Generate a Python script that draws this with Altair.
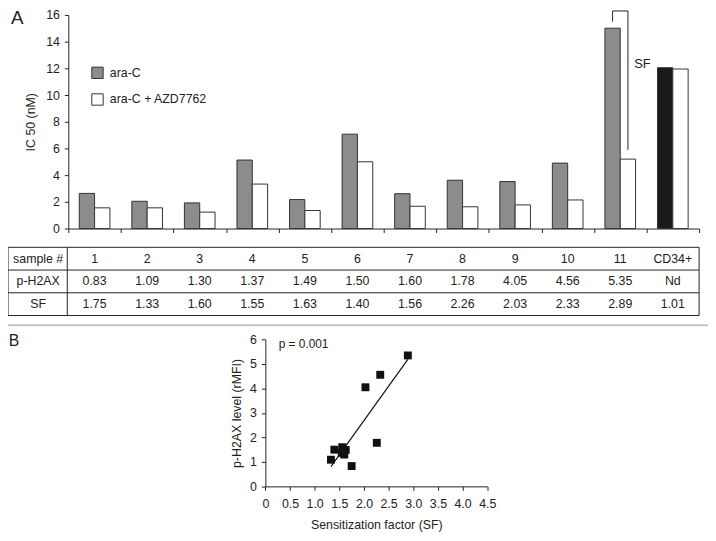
import altair as alt
import pandas as pd

# ---------------- data ----------------
samples = ["1", "2", "3", "4", "5", "6", "7", "8", "9", "10", "11", "CD34+"]
series = ["ara-C", "ara-C + AZD7762"]
ic50_arac = [2.63, 2.04, 1.92, 5.13, 2.17, 7.07, 2.61, 3.62, 3.52, 4.90, 15.01, 12.05]
ic50_azd = [1.55, 1.55, 1.23, 3.33, 1.35, 5.00, 1.67, 1.63, 1.77, 2.14, 5.20, 11.95]
row_names = ["sample #", "p-H2AX", "SF"]
ph2ax_labels = ["0.83", "1.09", "1.30", "1.37", "1.49", "1.50", "1.60", "1.78", "4.05", "4.56", "5.35", "Nd"]
sf_labels = ["1.75", "1.33", "1.60", "1.55", "1.63", "1.40", "1.56", "2.26", "2.03", "2.33", "2.89", "1.01"]
scatter_sf = [1.75, 1.33, 1.60, 1.55, 1.63, 1.40, 1.56, 2.26, 2.03, 2.33, 2.89]
scatter_ph2ax = [0.83, 1.09, 1.30, 1.37, 1.49, 1.50, 1.60, 1.78, 4.05, 4.56, 5.35]
ytick_a = [0, 2, 4, 6, 8, 10, 12, 14, 16]
xtick_b = [0, 0.5, 1.0, 1.5, 2.0, 2.5, 3.0, 3.5, 4.0, 4.5]
ytick_b = [0, 1, 2, 3, 4, 5, 6]

bars_df = pd.DataFrame(
    [{"sample": s, "series": series[0], "value": v} for s, v in zip(samples, ic50_arac)]
    + [{"sample": s, "series": series[1], "value": v} for s, v in zip(samples, ic50_azd)]
)
table_rows = [samples, ph2ax_labels, sf_labels]
table_df = pd.DataFrame(
    [{"row": row_names[r], "col": c, "text": t}
     for r, vals in enumerate(table_rows) for c, t in enumerate(vals)]
)
rowlab_df = pd.DataFrame({"row": row_names})
sc_df = pd.DataFrame({"sf": scatter_sf, "ph2ax": scatter_ph2ax})
one = pd.DataFrame({"k": [0]})

FONT = "Liberation Sans"
INK = "#222222"

# ---------------- scales (plot coords = page - 8) ----------------
BX = alt.Scale(domain=samples, range=[61, 699], paddingInner=0.417, paddingOuter=0.2085)
GX = alt.Scale(domain=[0, 12], range=[61, 699], nice=False, zero=False)
BY = alt.Scale(domain=[0, 16], range=[220, 4], nice=False, zero=False)
TYQ = alt.Scale(domain=[0, 3], range=[239, 308], nice=False, zero=False)
TYP = alt.Scale(type="point", domain=row_names, range=[239, 308], padding=0.5)
SX = alt.Scale(domain=[0, 4.5], range=[260.3, 484.7], nice=False, zero=False)
SY = alt.Scale(domain=[0, 6], range=[480.8, 332.3], nice=False, zero=False)


def rule(x, x2, y, y2, xs, ys, color=INK, width=1.0):
    enc = dict(x=alt.XDatum(x, scale=xs, axis=None), y=alt.YDatum(y, scale=ys, axis=None))
    if x2 is not None:
        enc["x2"] = alt.X2Datum(x2)
    if y2 is not None:
        enc["y2"] = alt.Y2Datum(y2)
    return alt.Chart(one).mark_rule(color=color, strokeWidth=width).encode(**enc)


def label(x, y, s, xs, ys, size=12, align="center"):
    return alt.Chart(one).mark_text(text=s, font=FONT, fontSize=size, color=INK,
                                    align=align, baseline="middle").encode(
        x=alt.XDatum(x, scale=xs, axis=None), y=alt.YDatum(y, scale=ys, axis=None))


# ---------------- panel A: bars ----------------
bars = alt.Chart(bars_df).transform_calculate(
    key="datum.sample == 'CD34+' && datum.series == 'ara-C' ? 'CD34+ ara-C' : datum.series"
).mark_bar(stroke="#333333", strokeWidth=1).encode(
    x=alt.X("sample:N", scale=BX, sort=samples, axis=None),
    xOffset=alt.XOffset("series:N", sort=series,
                        scale=alt.Scale(domain=series, paddingInner=0, paddingOuter=0)),
    y=alt.Y("value:Q", scale=BY,
            axis=alt.Axis(orient="left", offset=-61, values=ytick_a, tickSize=4,
                          labelPadding=5, labelOverlap=False, labelFlush=False,
                          title="IC 50 (nM)", titlePadding=8)),
    fill=alt.Fill("key:N",
                  scale=alt.Scale(domain=[series[0], series[1], "CD34+ ara-C"],
                                  range=["#8c8c8c", "#ffffff", "#1a1a1a"]),
                  legend=alt.Legend(title=None, orient="none", legendX=84, legendY=56,
                                    values=series, symbolType="square", symbolSize=132,
                                    symbolStrokeColor="#333333", symbolStrokeWidth=1,
                                    labelFont=FONT, labelFontSize=12.5, labelColor=INK,
                                    labelOffset=6, rowPadding=10, padding=0)),
)

# ---------------- table ----------------
table_text = alt.Chart(table_df).transform_calculate(xc="datum.col + 0.5").mark_text(
    font=FONT, fontSize=12.5, color=INK, baseline="middle"
).encode(
    x=alt.X("xc:Q", scale=GX,
            axis=alt.Axis(orient="bottom", offset=-313, values=list(range(13)),
                          labels=False, tickSize=4, title=None)),
    y=alt.Y("row:N", scale=TYP, axis=None),
    text="text:N",
)
row_text = alt.Chart(rowlab_df).mark_text(font=FONT, fontSize=12.5, color=INK,
                                          baseline="middle").encode(
    x=alt.XDatum(-0.574, scale=GX, axis=None),
    y=alt.Y("row:N", scale=TYP, axis=None),
    text="row:N",
)
grid = [rule(-1.147, 12, b, None, GX, TYQ) for b in [0, 1, 2, 3]]
grid += [rule(v, None, 0, 3, GX, TYQ) for v in [-1.147, -0.02, 12]]

separator = rule(-1.147, 12.17, 3.43, None, GX, TYQ, color="#c4c4c4", width=2)

# bracket + annotations panel A
bracket = [
    rule(10.354, None, 15.5, 16.3, GX, BY),
    rule(10.646, None, 5.9, 16.3, GX, BY),
    rule(10.354, 10.646, 16.3, None, GX, BY),
]
sf_note = label(10.92, 12.35, "SF", GX, BY, size=13)
a_lab = label(-0.97, 15.75, "A", GX, BY, size=19)

# ---------------- panel B: scatter ----------------
points = alt.Chart(sc_df).mark_square(size=64, color="#111111", opacity=1).encode(
    x=alt.X("sf:Q", scale=SX,
            axis=alt.Axis(orient="bottom", offset=-52.2, values=xtick_b, tickSize=4,
                          labelPadding=7, labelOverlap=False, labelFlush=False,
                          labelExpr="datum.value == 0 ? '0' : format(datum.value, '.1f')",
                          title="Sensitization factor (SF)", titlePadding=9)),
    y=alt.Y("ph2ax:Q", scale=SY,
            axis=alt.Axis(orient="left", offset=-260.3, values=ytick_b, tickSize=4,
                          labelPadding=5, labelOverlap=False, labelFlush=False,
                          title="p-H2AX level (rMFI)", titlePadding=6)),
)
reg = alt.Chart(sc_df).transform_regression("sf", "ph2ax").mark_line(
    color="#111111", strokeWidth=1.2
).encode(
    x=alt.X("sf:Q", scale=SX, axis=None),
    y=alt.Y("ph2ax:Q", scale=SY, axis=None),
)
p_note = label(0.27, 5.81, "p = 0.001", SX, SY, size=12, align="left")
b_lab = label(-5.1, 5.95, "B", SX, SY, size=16)

layers = [separator] + grid + [bars, table_text, row_text] + bracket + [sf_note, a_lab, reg, points, p_note, b_lab]

chart = alt.layer(*layers).resolve_scale(
    x="independent", y="independent"
).resolve_axis(
    x="independent", y="independent"
).properties(
    width=708, height=533, padding=0, autosize=alt.AutoSizeParams(type="none")
).configure_view(
    stroke=None
).configure_axis(
    grid=False, domainColor=INK, tickColor=INK, labelColor=INK, labelFont=FONT,
    labelFontSize=12.5, titleFont=FONT, titleFontSize=12.5, titleFontWeight="normal",
    titleColor=INK, domainWidth=1, tickWidth=1
)

chart.save("out.html", embed_options={"renderer": "svg", "actions": False})
